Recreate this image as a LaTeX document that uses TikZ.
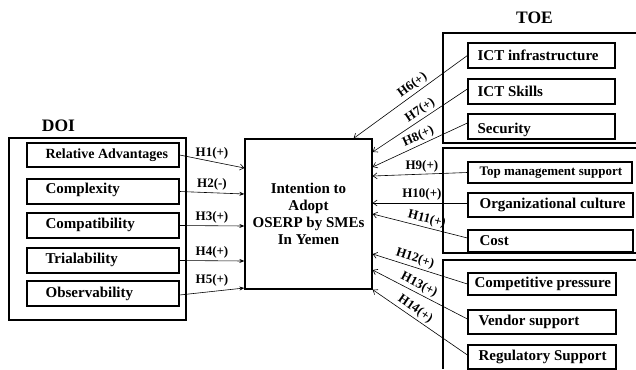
\documentclass[tikz,border=0pt]{standalone}
\usepackage{fontspec}
\setmainfont{Liberation Serif}
\usetikzlibrary{positioning,arrows.meta}

\tikzset{
    factor/.style={draw, line width=1.2pt, minimum height=24pt, inner sep=0pt},
    ftext/.style={anchor=west, inner sep=0pt, font=\fontsize{15}{17}\selectfont\bfseries},
    group/.style={line width=1.3pt},
    hyp/.style={line width=0.6pt, -{Straight Barb[length=4pt,width=6pt]}},
    hypf/.style={line width=0.6pt, -{Stealth[length=5pt,width=4pt]}},
    hlabel/.style={inner sep=2pt, font=\fontsize{13}{15}\selectfont\bfseries},
    title/.style={font=\fontsize{17.5}{20}\selectfont\bfseries}
}

\begin{document}
\begin{tikzpicture}[x=1pt,y=-1pt]
    \useasboundingbox (0,0) rectangle (636,369);

    % DOI group
    \node[title] (doi) at (58.5,126) {DOI};
    \draw[group] (9,138) rectangle (186,320);
    \node[factor, minimum width=152pt] (ra) at (103,155) {};
    \node[ftext, font=\fontsize{14}{16}\selectfont\bfseries] at ([xshift=19pt]ra.west) {Relative Advantages};
    \node[factor, minimum width=152pt, minimum height=25pt] (cx) at (103,191.5) {};
    \node[ftext] at ([xshift=19pt,yshift=2pt]cx.west) {Complexity};
    \node[factor, minimum width=152pt, minimum height=25pt] (cp) at (103,225.5) {};
    \node[ftext] at ([xshift=19pt,yshift=1pt]cp.west) {Compatibility};
    \node[factor, minimum width=152pt, minimum height=25pt] (tr) at (103,260.5) {};
    \node[ftext] at ([xshift=19pt,yshift=1pt]tr.west) {Trialability};
    \node[factor, minimum width=152pt, minimum height=25pt] (ob) at (103,293.5) {};
    \node[ftext] at ([xshift=19pt]ob.west) {Observability};

    % Dependent variable
    \node[draw, line width=1.3pt, minimum width=127pt, minimum height=150pt, align=center,
          font=\fontsize{15}{17}\selectfont\bfseries] (adopt) at (308.5,214)
          {Intention to\\Adopt\\OSERP by SMEs\\In Yemen};

    % TOE groups
    \node[title] (toe) at (534.5,18) {TOE};
    \draw[group] (636,33) -| (443,143) -- (636,143);
    \draw[group] (636,148) -| (443,253) -- (636,253);
    \draw[group] (636,260) -| (443,369);

    \node[factor, minimum width=147pt, minimum height=25pt] (infra) at (541.5,55.5) {};
    \node[ftext] at ([xshift=10pt]infra.west) {ICT infrastructure};
    \node[factor, minimum width=147pt, minimum height=25pt] (skill) at (541.5,91.5) {};
    \node[ftext] at ([xshift=10pt]skill.west) {ICT Skills};
    \node[factor, minimum width=147pt, minimum height=25pt] (sec) at (541.5,126.5) {};
    \node[ftext] at ([xshift=10pt,yshift=-3pt]sec.west) {Security};

    \node[factor, minimum width=164pt, minimum height=21pt] (top) at (550,172.5) {};
    \node[ftext, font=\fontsize{13}{15}\selectfont\bfseries] at ([xshift=12pt]top.west) {Top management support};
    \node[factor, minimum width=165pt] (org) at (550.5,205) {};
    \node[ftext] at ([xshift=12pt]org.west) {Organizational culture};
    \node[factor, minimum width=165pt, minimum height=22pt] (cost) at (550.5,241) {};
    \node[ftext] at ([xshift=12pt]cost.west) {Cost};

    \node[factor, minimum width=148pt, minimum height=22pt] (comp) at (542,284) {};
    \node[ftext] at ([xshift=7pt]comp.west) {Competitive pressure};
    \node[factor, minimum width=148pt] (vend) at (542,322) {};
    \node[ftext] at ([xshift=11pt]vend.west) {Vendor support};
    \node[factor, minimum width=148pt] (reg) at (542,357) {};
    \node[ftext] at ([xshift=11pt]reg.west) {Regulatory Support};

    % Hypotheses DOI
    \draw[hyp] (ra.east) -- ([yshift=46pt]adopt.west) node[midway, above, hlabel] {H1(+)};
    \draw[hypf] (cx.east) -- ([yshift=20pt]adopt.west) node[midway, above, hlabel] {H2(-)};
    \draw[hypf] (cp.east) -- ([yshift=-12pt]adopt.west) node[midway, above, hlabel] {H3(+)};
    \draw[hypf] (tr.east) -- ([yshift=-47pt]adopt.west) node[midway, above, hlabel] {H4(+)};
    \draw[hypf] ([yshift=-1.5pt]ob.east) -- ([yshift=-74pt]adopt.west) node[midway, above=3pt, hlabel] {H5(+)};

    % Hypotheses TOE
    \draw[hyp] (infra.west) -- ([xshift=-19pt]adopt.north east) node[pos=.44, sloped, above, hlabel] {H6(+)};
    \draw[hyp] ([yshift=2.5pt]skill.west) -- ([yshift=62pt]adopt.east) node[pos=.45, sloped, above, hlabel] {H7(+)};
    \draw[hyp] ([yshift=3.5pt]sec.west) -- ([yshift=47pt]adopt.east) node[pos=.48, sloped, above, hlabel] {H8(+)};
    \draw[hyp] (top.west) -- ([yshift=38pt]adopt.east) node[pos=.48, above, hlabel] {H9(+)};
    \draw[hyp] ([yshift=2pt]org.west) -- ([yshift=11pt]adopt.east) node[pos=.48, above, hlabel] {H10(+)};
    \draw[hyp] ([yshift=3pt]cost.west) -- (adopt.east) node[pos=.45, sloped, above, hlabel] {H11(+)};
    \draw[hyp] (comp.west) -- ([yshift=-40pt]adopt.east) node[pos=.58, sloped, above, hlabel] {H12(+)};
    \draw[hyp] ([yshift=3pt]vend.west) -- ([yshift=-56pt]adopt.east) node[pos=.55, sloped, above, hlabel] {H13(+)};
    \draw[hyp] ([yshift=2pt]reg.west) -- (adopt.south east) node[pos=.6, sloped, above, hlabel] {H14(+)};
\end{tikzpicture}
\end{document}
